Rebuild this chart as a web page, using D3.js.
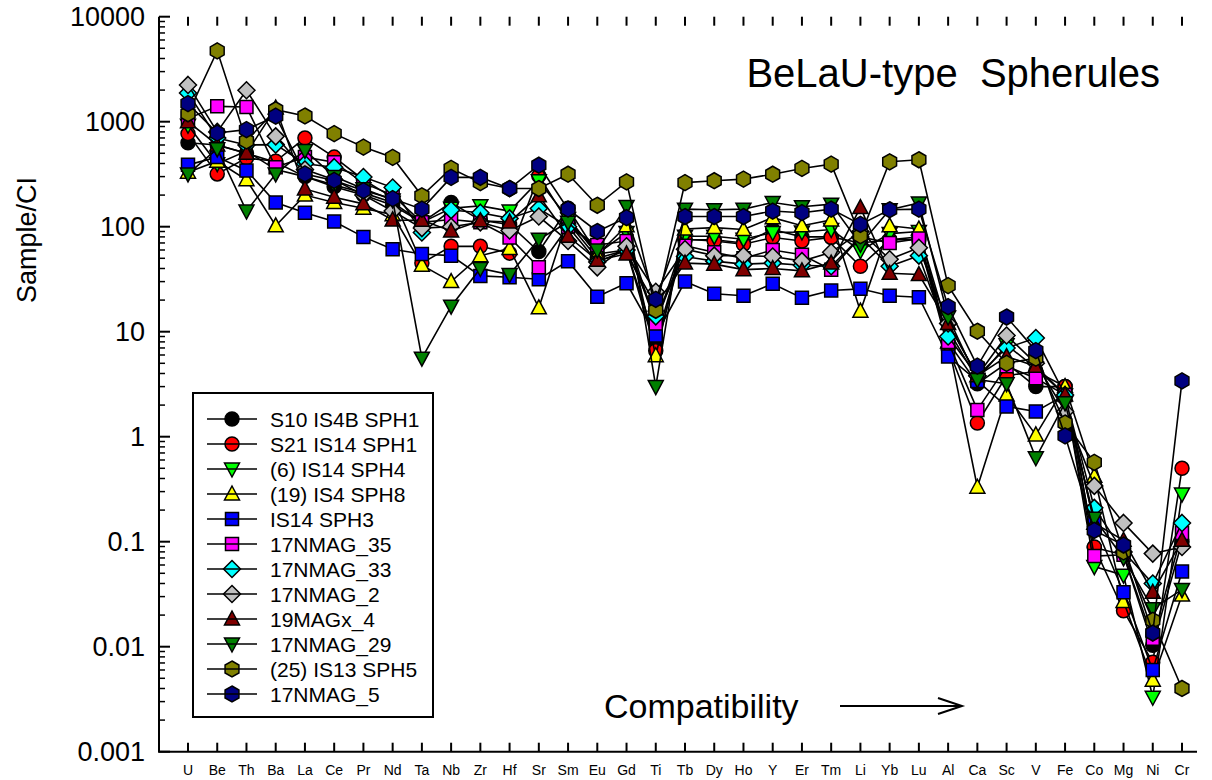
<!DOCTYPE html>
<html><head><meta charset="utf-8">
<script src="https://cdn.jsdelivr.net/npm/d3@7"></script>
<style>
html,body{margin:0;padding:0;background:#fff;}
svg text{font-family:"Liberation Sans",Arial,sans-serif;}
</style></head>
<body>
<svg id="chart" width="1212" height="780"></svg>
<script>
const categories = ["U","Be","Th","Ba","La","Ce","Pr","Nd","Ta","Nb","Zr","Hf","Sr","Sm","Eu","Gd","Ti","Tb","Dy","Ho","Y","Er","Tm","Li","Yb","Lu","Al","Ca","Sc","V","Fe","Co","Mg","Ni","Cr"];

const seriesNames = ["S10 IS4B SPH1","S21 IS14 SPH1","(6) IS14 SPH4","(19) IS4 SPH8","IS14 SPH3","17NMAG_35","17NMAG_33","17NMAG_2","19MAGx_4","17NMAG_29","(25) IS13 SPH5","17NMAG_5"];

const s10_IS4B_SPH1 = [630,600,500,410,300,240,200,160,110,170,115,105,58,150,55,60,8,75,75,70,94,80,80,70,75,80,8,3.2,5,3.0,3.0,0.088,0.075,0.0103,0.1];
const s21_IS14_SPH1 = [770,318,450,420,698,460,280,190,45,65,65,56,305,110,50,60,6.6,76,73,68,79,73,79,42,75,75,6.9,1.35,3.8,4.2,3.0,0.089,0.022,0.0071,0.50];
const is14_SPH4 = [925,398,525,350,300,250,210,170,110,150,158,141,274,120,55,88,11.7,81,81,76,88,89,94,59,86,90,10.5,3.5,7.5,4.5,2.5,0.058,0.048,0.0033,0.284];
const is4_SPH8 = [330,420,280,102,200,170,150,130,43,30,53,62,16.9,122,54,102,5.9,95,98,94,122,102,116,15.7,102,95,8,0.33,2.5,1.04,3.0,0.42,0.027,0.0048,0.031];
const is14_SPH3 = [388,460,343,170,136,112,80,61,55,53,34,33,31.6,47,21.5,29,9.2,30,23,22,28.6,21,24.7,25.6,22,21.3,5.8,3.4,1.94,1.74,2.5,0.15,0.033,0.006,0.052];
const nmag_35 = [1070,1400,1380,369,460,412,260,200,110,117,110,79,41,100,67,73,12,66,57,50,60,54,39,80,70,77,8,1.8,4.7,3.6,2.5,0.073,0.075,0.0119,0.121];
const nmag_33 = [1880,700,600,605,398,369,297,236,88,144,136,120,149,100,46,60,14,52,47,44,45,43,42,80,42,53,9,3.8,7,8.7,2.5,0.21,0.08,0.04,0.151];
const nmag_2 = [2240,800,1995,725,350,280,200,141,97,100,110,92,125,73,41,65,24,61,53,53,52,47,57,90,49,63,12,3.8,9.2,5,1.74,0.34,0.151,0.077,0.089];
const magx_4 = [1000,600,500,1350,229,191,165,116,115,91,114,111,197,81,48,55,18,45,44,39,40,38,45,152,36,35,12,3.8,5.8,4.7,2.5,0.15,0.103,0.033,0.103];
const nmag_29 = [318,552,141,318,533,300,230,180,5.6,17.5,40,35,76,110,60,156,3.0,147,145,147,170,155,164,68,145,168,13.8,3.5,3.2,0.63,2.1,0.167,0.070,0.023,0.035];
const is13_SPH5 = [1190,4730,655,1300,1133,770,573,457,197,359,263,231,231,316,160,267,16,263,274,284,316,359,394,82,415,434,27.5,10.1,5,5.6,1.35,0.57,0.08,0.0178,0.004];
const nmag_5 = [1486,780,840,1128,318,276,221,185,147,295,295,231,385,147,90,122,20.3,125,125,125,141,136,147,105,145,147,17.3,4.7,13.8,6.6,1.02,0.128,0.093,0.0135,3.4];

const seriesValues = [s10_IS4B_SPH1,s21_IS14_SPH1,is14_SPH4,is4_SPH8,is14_SPH3,nmag_35,nmag_33,nmag_2,magx_4,nmag_29,is13_SPH5,nmag_5];
const seriesColors = ["#000000","#ff0000","#00ff00","#ffff00","#0000ff","#ff00ff","#00ffff","#c0c0c0","#800000","#008000","#808000","#000080"];
const seriesShapes = ["circle","circle","down","up","square","square","diamond","diamond","up","down","hexagon","hexagon"];

const yTickValues = [0.001,0.01,0.1,1,10,100,1000,10000];
const yTickLabels = ["0.001","0.01","0.1","1","10","100","1000","10000"];

const svg = d3.select("#chart");
const x = d3.scalePoint().domain(categories).range([188,1182]);
const y = d3.scaleLog().domain([0.001,10000]).range([751.7,16.7]);

function shapePath(s){
  if(s==="circle"){const r=7;return `M${-r},0A${r},${r} 0 1,0 ${r},0A${r},${r} 0 1,0 ${-r},0Z`;}
  if(s==="square"){const h=6.5;return `M${-h},${-h}H${h}V${h}H${-h}Z`;}
  if(s==="diamond"){const h=8.5;return `M0,${-h}L${h},0L0,${h}L${-h},0Z`;}
  if(s==="up"){const w=7.5,t=8,b=6;return `M0,${-t}L${w},${b}L${-w},${b}Z`;}
  if(s==="down"){const w=7.5,t=8,b=6;return `M0,${t}L${w},${-b}L${-w},${-b}Z`;}
  if(s==="hexagon"){const r=8;let p=[];for(let i=0;i<6;i++){const a=Math.PI/3*i-Math.PI/2;p.push([r*Math.cos(a),r*Math.sin(a)]);}return "M"+p.map(d=>d.join(",")).join("L")+"Z";}
}

// axes
const axisG = svg.append("g");
axisG.append("line").attr("x1",159).attr("x2",159).attr("y1",y(10000)).attr("y2",y(0.001)).attr("stroke","#000").attr("stroke-width",2);
axisG.append("line").attr("x1",158).attr("x2",1197).attr("y1",y(0.001)).attr("y2",y(0.001)).attr("stroke","#000").attr("stroke-width",2);

for(let e=-3;e<=4;e++){
  const v=Math.pow(10,e);
  axisG.append("line").attr("x1",159).attr("x2",170).attr("y1",y(v)).attr("y2",y(v)).attr("stroke","#000").attr("stroke-width",2);
  if(e<4){
    for(let m=2;m<=9;m++){
      const yy=y(v*m);
      axisG.append("line").attr("x1",159).attr("x2",165).attr("y1",yy).attr("y2",yy).attr("stroke","#000").attr("stroke-width",1.5);
    }
  }
}
yTickValues.forEach((v,i)=>{
  axisG.append("text").attr("x",145).attr("y",y(v)).attr("dy","0.36em").attr("text-anchor","end")
    .attr("font-size",27).text(yTickLabels[i]);
});
categories.forEach(c=>{
  axisG.append("line").attr("x1",x(c)).attr("x2",x(c)).attr("y1",y(0.001)).attr("y2",y(0.001)-9).attr("stroke","#000").attr("stroke-width",2);
  axisG.append("line").attr("x1",x(c)).attr("x2",x(c)).attr("y1",y(10000)).attr("y2",y(10000)+9).attr("stroke","#000").attr("stroke-width",2);
  axisG.append("text").attr("x",x(c)).attr("y",770).attr("dy","0.35em").attr("text-anchor","middle").attr("font-size",14).text(c);
});

svg.append("text").attr("transform","translate(36,240) rotate(-90)").attr("text-anchor","middle").attr("font-size",27).text("Sample/CI");

const line = d3.line().x((d,i)=>x(categories[i])).y(d=>y(d));
seriesValues.forEach((vals,si)=>{
  const g=svg.append("g");
  g.append("path").attr("d",line(vals)).attr("fill","none").attr("stroke","#000").attr("stroke-width",1.6);
  g.selectAll("path.m").data(vals).enter().append("path").attr("class","m")
    .attr("transform",(d,i)=>`translate(${x(categories[i])},${y(d)})`)
    .attr("d",shapePath(seriesShapes[si])).attr("fill",seriesColors[si]).attr("stroke","#000").attr("stroke-width",1.5);
});

svg.append("text").attr("x",1160).attr("y",87).attr("text-anchor","end").attr("font-size",40).style("white-space","pre").text("BeLaU-type  Spherules");

svg.append("text").attr("x",604).attr("y",718).attr("font-size",34).text("Compatibility");
svg.append("line").attr("x1",840).attr("x2",961).attr("y1",706).attr("y2",706).attr("stroke","#000").attr("stroke-width",2);
svg.append("path").attr("d","M938,698L962,706L938,714").attr("fill","none").attr("stroke","#000").attr("stroke-width",2);

const lg = svg.append("g");
lg.append("rect").attr("x",193).attr("y",393).attr("width",240).attr("height",324).attr("fill","#fff").attr("stroke","#000").attr("stroke-width",2);
seriesNames.forEach((n,i)=>{
  const yy=419+i*25;
  lg.append("path").attr("transform",`translate(232,${yy})`).attr("d",shapePath(seriesShapes[i])).attr("fill",seriesColors[i]).attr("stroke","#000").attr("stroke-width",1.5);
  lg.append("line").attr("x1",207).attr("x2",257).attr("y1",yy).attr("y2",yy).attr("stroke","#000").attr("stroke-width",1.6);
  lg.append("text").attr("x",270).attr("y",yy).attr("dy","0.36em").attr("font-size",21).text(n);
});
</script>
</body></html>
